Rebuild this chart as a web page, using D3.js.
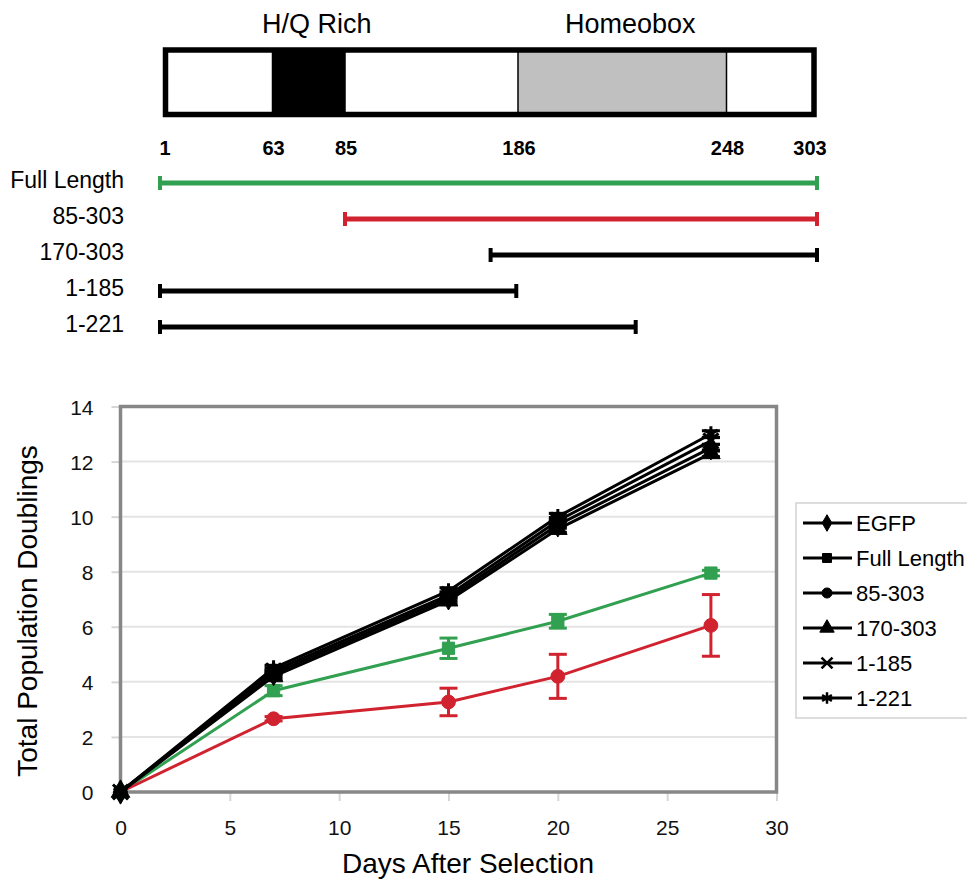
<!DOCTYPE html>
<html>
<head>
<meta charset="utf-8">
<script src="https://cdn.jsdelivr.net/npm/d3@7"></script>
<style>
  body { margin: 0; background: #fff; }
  svg { display: block; font-family: "Liberation Sans", Arial, sans-serif; }
</style>
</head>
<body>
<div id="chart"></div>
<script>
// ---- protein map data ----
var posMarks = [1, 63, 85, 186, 248, 303];
var domainNames = ["H/Q Rich", "Homeobox"];
var domainStart = [63, 186];
var domainEnd = [85, 248];

var constructNames = ["Full Length", "85-303", "170-303", "1-185", "1-221"];
var constructStart = [1, 85, 170, 1, 1];
var constructEnd = [303, 303, 303, 185, 221];

// ---- growth curve data ----
var days = [0, 7, 15, 20, 27];
var seriesNames = ["EGFP", "Full Length", "85-303", "170-303", "1-185", "1-221"];
var egfp     = [0, 4.30, 7.05, 9.70, 12.50];
var fullLen  = [0, 3.68, 5.22, 6.20, 7.95];
var c85_303  = [0, 2.66, 3.27, 4.20, 6.05];
var c170_303 = [0, 4.20, 6.95, 9.55, 12.30];
var c1_185   = [0, 4.40, 7.15, 9.85, 12.75];
var c1_221   = [0, 4.50, 7.30, 10.00, 13.00];
var egfpErr     = [0, 0.10, 0.12, 0.12, 0.12];
var fullLenErr  = [0, 0.18, 0.37, 0.25, 0.10];
var c85_303Err  = [0, 0.08, 0.50, 0.80, 1.12];
var c170_303Err = [0, 0.10, 0.12, 0.12, 0.12];
var c1_185Err   = [0, 0.10, 0.12, 0.12, 0.12];
var c1_221Err   = [0, 0.10, 0.12, 0.12, 0.12];
var xTicks = [0, 5, 10, 15, 20, 25, 30];
var yTicks = [0, 2, 4, 6, 8, 10, 12, 14];

var green = "#31a050", red = "#d0232f";

var svg = d3.select("#chart").append("svg")
  .attr("width", 967)
  .attr("height", 883);

// ================= protein map =================
var px = d3.scaleLinear()
  .domain(posMarks)
  .range([160, 272.5, 345, 518, 726.5, 817]);

var boxTop = 50, boxBot = 114.5;
var map = svg.append("g");

map.append("rect")
  .attr("x", px(1) + 5.5).attr("y", boxTop)
  .attr("width", px(303) - 3 - px(1) - 5.5).attr("height", boxBot - boxTop)
  .attr("fill", "#fff");

map.selectAll(".dom")
  .data(domainNames)
  .enter()
  .append("rect")
    .attr("x", function(d, i) { return px(domainStart[i]); })
    .attr("y", boxTop)
    .attr("width", function(d, i) { return px(domainEnd[i]) - px(domainStart[i]); })
    .attr("height", boxBot - boxTop)
    .attr("fill", function(d, i) { return i == 0 ? "#000" : "#c0c0c0"; })
    .attr("stroke", "#000")
    .attr("stroke-width", 1.5);

map.append("rect")
  .attr("x", px(1) + 5.5).attr("y", boxTop)
  .attr("width", px(303) - 3 - px(1) - 5.5).attr("height", boxBot - boxTop)
  .attr("fill", "none")
  .attr("stroke", "#000")
  .attr("stroke-width", 5.5);

map.selectAll(".domlabel")
  .data(domainNames)
  .enter()
  .append("text")
    .attr("x", function(d, i) { return (px(domainStart[i]) + px(domainEnd[i])) / 2 + 8; })
    .attr("y", 33)
    .attr("text-anchor", "middle")
    .style("font-size", "27px")
    .text(function(d) { return d; });

map.selectAll(".pos")
  .data(posMarks)
  .enter()
  .append("text")
    .attr("x", function(d, i) {
      if (i == 0) return px(d) + 5;
      if (i == posMarks.length - 1) return px(d) - 7;
      return px(d) + 1;
    })
    .attr("y", 155)
    .attr("text-anchor", "middle")
    .style("font-size", "20px")
    .style("font-weight", "bold")
    .text(function(d) { return d; });

var cy = function(i) { return 183 + i * 36; };
var cColor = function(i) { return i == 0 ? green : (i == 1 ? red : "#000"); };

map.selectAll(".cline")
  .data(constructNames)
  .enter()
  .append("line")
    .attr("x1", function(d, i) { return px(constructStart[i]); })
    .attr("x2", function(d, i) { return px(constructEnd[i]); })
    .attr("y1", function(d, i) { return cy(i); })
    .attr("y2", function(d, i) { return cy(i); })
    .attr("stroke", function(d, i) { return cColor(i); })
    .attr("stroke-width", 5);

[constructStart, constructEnd].forEach(function(arr) {
  map.selectAll(null)
    .data(constructNames)
    .enter()
    .append("line")
      .attr("x1", function(d, i) { return px(arr[i]); })
      .attr("x2", function(d, i) { return px(arr[i]); })
      .attr("y1", function(d, i) { return cy(i) - 7; })
      .attr("y2", function(d, i) { return cy(i) + 7; })
      .attr("stroke", function(d, i) { return cColor(i); })
      .attr("stroke-width", 4);
});

map.selectAll(".clabel")
  .data(constructNames)
  .enter()
  .append("text")
    .attr("x", 124)
    .attr("y", function(d, i) { return cy(i) + 5; })
    .attr("text-anchor", "end")
    .style("font-size", "23px")
    .text(function(d) { return d; });

// ================= growth chart =================
var x = d3.scaleLinear().domain([0, 30]).range([120.5, 776.5]);
var y = d3.scaleLinear().domain([0, 14]).range([792, 406.5]);

var plot = svg.append("g");

// gridlines
plot.selectAll(".grid")
  .data(yTicks.slice(1, -1))
  .enter()
  .append("line")
    .attr("x1", x(0)).attr("x2", x(30))
    .attr("y1", function(d) { return y(d); })
    .attr("y2", function(d) { return y(d); })
    .attr("stroke", "#e4e4e4")
    .attr("stroke-width", 2);

var yAxis = plot.append("g")
  .attr("transform", "translate(" + x(0) + ",0)")
  .call(d3.axisLeft(y).tickValues(yTicks).tickSize(9).tickPadding(18));
var xAxis = plot.append("g")
  .attr("transform", "translate(0," + y(0) + ")")
  .call(d3.axisBottom(x).tickValues(xTicks).tickSize(9).tickPadding(20));

[xAxis, yAxis].forEach(function(a) {
  a.select(".domain").remove();
  a.selectAll("line").attr("stroke", "#d6d6d6").attr("stroke-width", 2);
  a.selectAll("text")
    .attr("fill", "#111")
    .style("font-size", "21px")
    .style("font-family", "'Liberation Sans', Arial, sans-serif");
});
yAxis.selectAll("text").attr("dy", "0.36em");
xAxis.selectAll("text").attr("dy", "0.66em");

// frame
plot.append("rect")
  .attr("x", x(0)).attr("y", y(14))
  .attr("width", x(30) - x(0)).attr("height", y(0) - y(14))
  .attr("fill", "none")
  .attr("stroke", "#878787")
  .attr("stroke-width", 3.5);

// axis titles
svg.append("text")
  .attr("x", 468).attr("y", 873)
  .attr("text-anchor", "middle")
  .style("font-size", "28px")
  .text("Days After Selection");

svg.append("text")
  .attr("transform", "translate(37,611) rotate(-90)")
  .attr("text-anchor", "middle")
  .style("font-size", "28px")
  .text("Total Population Doublings");

// series (draw coloured ones first so the black group is on top)
var series = [
  { name: seriesNames[1], values: fullLen,  err: fullLenErr,  color: green,  symbol: d3.symbolSquare,   fill: true,  size: 150 },
  { name: seriesNames[2], values: c85_303,  err: c85_303Err,  color: red,    symbol: d3.symbolCircle,   fill: true,  size: 150 },
  { name: seriesNames[0], values: egfp,     err: egfpErr,     color: "#000", symbol: d3.symbolDiamond,  fill: true,  size: 170 },
  { name: seriesNames[3], values: c170_303, err: c170_303Err, color: "#000", symbol: d3.symbolTriangle, fill: true,  size: 150 },
  { name: seriesNames[4], values: c1_185,   err: c1_185Err,   color: "#000", symbol: d3.symbolTimes,    fill: false, size: 150 },
  { name: seriesNames[5], values: c1_221,   err: c1_221Err,   color: "#000", symbol: d3.symbolAsterisk, fill: false, size: 170 }
];

var line = d3.line()
  .x(function(d, i) { return x(days[i]); })
  .y(function(d) { return y(d); });

series.forEach(function(s) {
  var g = plot.append("g");
  g.append("path")
    .datum(s.values)
    .attr("d", line)
    .attr("fill", "none")
    .attr("stroke", s.color)
    .attr("stroke-width", 3);

  // error bars
  var pts = days.map(function(d, i) { return { day: d, v: s.values[i], e: s.err[i] }; })
    .filter(function(p) { return p.e > 0; });
  var eb = g.selectAll(".eb")
    .data(pts)
    .enter()
    .append("g");
  eb.append("line")
    .attr("x1", function(p) { return x(p.day); })
    .attr("x2", function(p) { return x(p.day); })
    .attr("y1", function(p) { return y(p.v + p.e); })
    .attr("y2", function(p) { return y(p.v - p.e); })
    .attr("stroke", s.color).attr("stroke-width", 3);
  [1, -1].forEach(function(sg) {
    eb.append("line")
      .attr("x1", function(p) { return x(p.day) - 9; })
      .attr("x2", function(p) { return x(p.day) + 9; })
      .attr("y1", function(p) { return y(p.v + sg * p.e); })
      .attr("y2", function(p) { return y(p.v + sg * p.e); })
      .attr("stroke", s.color).attr("stroke-width", 3);
  });

  // markers
  g.selectAll(".mk")
    .data(s.values)
    .enter()
    .append("path")
      .attr("d", d3.symbol().type(s.symbol).size(s.size))
      .attr("transform", function(d, i) { return "translate(" + x(days[i]) + "," + y(d) + ")"; })
      .attr("fill", s.fill ? s.color : "none")
      .attr("stroke", s.color)
      .attr("stroke-width", s.fill ? 1 : 3);
});

// legend
var legend = svg.append("g");
legend.append("rect")
  .attr("x", 796).attr("y", 503)
  .attr("width", 200).attr("height", 215)
  .attr("fill", "#fff")
  .attr("stroke", "#d2d2d2")
  .attr("stroke-width", 1.5);

var legendSymbols = [d3.symbolDiamond, d3.symbolSquare, d3.symbolCircle, d3.symbolTriangle, d3.symbolTimes, d3.symbolAsterisk];
var legendSizes = [80, 80, 80, 90, 80, 90];

var item = legend.selectAll(".item")
  .data(seriesNames)
  .enter()
  .append("g")
    .attr("transform", function(d, i) { return "translate(0," + (523 + i * 35) + ")"; });

item.append("line")
  .attr("x1", 803).attr("x2", 852)
  .attr("stroke", "#000").attr("stroke-width", 3);
item.append("path")
  .attr("d", function(d, i) { return d3.symbol().type(legendSymbols[i]).size(legendSizes[i])(); })
  .attr("transform", "translate(827,0)")
  .attr("fill", function(d, i) { return i < 4 ? "#000" : "none"; })
  .attr("stroke", "#000")
  .attr("stroke-width", function(d, i) { return i < 4 ? 1 : 2.5; });
item.append("text")
  .attr("x", 856).attr("y", 8)
  .style("font-size", "22px")
  .text(function(d) { return d; });
</script>
</body>
</html>
